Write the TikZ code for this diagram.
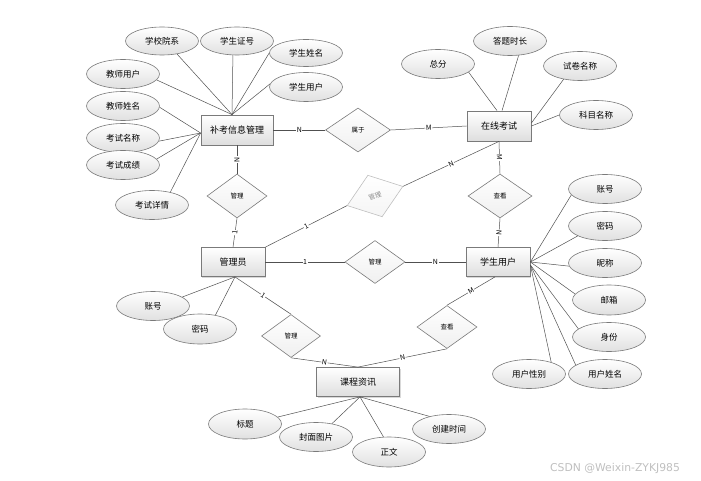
\documentclass[tikz,border=0pt]{standalone}
\usepackage{fontspec}
\setmainfont{Noto Sans CJK SC}
\newfontfamily\wmfont{DejaVu Sans}
\usetikzlibrary{shapes.geometric,shadows}
\definecolor{bordc}{HTML}{7A7A7A}
\definecolor{linec}{HTML}{505050}
\tikzset{
 ent/.style={rectangle, draw=bordc, line width=0.8pt, top color=white, bottom color=black!13, inner sep=0pt, font=\fontsize{9}{10}\selectfont, drop shadow={shadow xshift=1.2pt, shadow yshift=-1.2pt, fill=black!25, opacity=0.6}},
 attr/.style={ellipse, draw=bordc, line width=0.6pt, top color=white, bottom color=black!12, inner sep=0pt, minimum width=73pt, minimum height=29pt, font=\fontsize{8.5}{10}\selectfont},
 rel/.style={diamond, draw=bordc, line width=0.6pt, top color=white, bottom color=black!6, inner sep=0pt, font=\fontsize{6.5}{7}\selectfont},
 conn/.style={draw=linec, line width=0.5pt},
 card/.style={font=\fontsize{7}{7}\selectfont, fill=white, inner sep=0.6pt, sloped},
}
\begin{document}
\begin{tikzpicture}[x=1pt,y=-1pt]
\useasboundingbox (0,0) rectangle (701,481);
% entities
\node[ent, minimum width=72pt, minimum height=30pt] (bk) at (237,130) {补考信息管理};
\node[ent, minimum width=64pt, minimum height=30pt] (zx) at (499,126) {在线考试};
\node[ent, minimum width=64pt, minimum height=29pt] (gly) at (233,262) {管理员};
\node[ent, minimum width=64pt, minimum height=29pt] (xs) at (498,262) {学生用户};
\node[ent, minimum width=83pt, minimum height=29pt] (kc) at (358,382) {课程资讯};
% relationships
\node[rel, minimum width=65pt, minimum height=44pt] (sy) at (358,130) {属于};
\node[rel, minimum width=60pt, minimum height=44pt] (d1) at (237,196) {管理};
\node[rel, minimum width=64pt, minimum height=44pt] (d2) at (500,196) {查看};
\node[rel, minimum width=60pt, minimum height=43pt] (d3) at (375,262) {管理};
\node[rel, draw=black!25, text=black!45, bottom color=black!4, rotate=19, minimum width=59pt, minimum height=44pt] (d4) at (375,196) {管理};
\node[rel, minimum width=59pt, minimum height=43pt] (d5) at (291,336) {管理};
\node[rel, minimum width=60pt, minimum height=43pt] (d6) at (447,327) {查看};
% attributes of 补考信息管理
\node[attr, minimum height=28pt] (a1) at (162,41) {学校院系};
\node[attr, minimum height=28pt] (a2) at (237,41) {学生证号};
\node[attr, minimum height=27pt] (a3) at (306,53) {学生姓名};
\node[attr] (a4) at (306,87) {学生用户};
\node[attr] (a5) at (123,74) {教师用户};
\node[attr] (a6) at (123,106) {教师姓名};
\node[attr] (a7) at (123,138) {考试名称};
\node[attr] (a8) at (123,165) {考试成绩};
\node[attr] (a9) at (152,205) {考试详情};
% attributes of 在线考试
\node[attr] (b1) at (438,64) {总分};
\node[attr] (b2) at (510,41) {答题时长};
\node[attr] (b3) at (580,66) {试卷名称};
\node[attr] (b4) at (596,115) {科目名称};
% attributes of 学生用户
\node[attr] (c1) at (605,189) {账号};
\node[attr] (c2) at (605,226) {密码};
\node[attr] (c3) at (605,263) {昵称};
\node[attr, minimum height=30pt] (c4) at (609,300) {邮箱};
\node[attr] (c5) at (609,337) {身份};
\node[attr] (c6) at (605,374) {用户姓名};
\node[attr] (c7) at (529,374) {用户性别};
% attributes of 管理员
\node[attr] (e1) at (153,306) {账号};
\node[attr, minimum height=30pt] (e2) at (200,329) {密码};
% attributes of 课程资讯
\node[attr, minimum height=30pt] (f1) at (245,424) {标题};
\node[attr] (f2) at (316,437) {封面图片};
\node[attr, minimum height=30pt] (f3) at (389,452) {正文};
\node[attr] (f4) at (449,429) {创建时间};
% convergence points
\coordinate (bkT) at ([xshift=-5pt]bk.north);
\coordinate (bkL) at ([yshift=-3pt]bk.west);
\coordinate (xsR) at (xs.east);
\coordinate (xsR2) at ([yshift=-3pt]xs.east);
\coordinate (glyB) at ([xshift=2pt]gly.south);
\coordinate (kcB) at ([xshift=2pt]kc.south);
% attribute connectors
\draw[conn] (a1.319) -- (bkT);
\draw[conn] (a2.254) -- (bkT);
\draw[conn] (a3.180) -- (bkT);
\draw[conn] (a4.175) -- (bkT);
\draw[conn] (a5.350) -- (bkT);
\draw[conn] (a6.358) -- (bkL);
\draw[conn] (a7.355) -- (bkL);
\draw[conn] (a8.10) -- (bkL);
\draw[conn] (a9.35) -- (bkL);
\draw[conn] (b1.345) -- ([xshift=-2pt]zx.north);
\draw[conn] (b2.301) -- ([xshift=3pt]zx.north);
\draw[conn] (b3.219) -- ([yshift=3pt]zx.east);
\draw[conn] (b4.west) -- (zx.east);
\draw[conn] (c1.190) -- (xsR);
\draw[conn] (c2.200) -- (xsR);
\draw[conn] (c3.185) -- (xsR);
\draw[conn] (c4.170) -- (xsR);
\draw[conn] (c5.165) -- (xsR2);
\draw[conn] (c6.163) -- (xsR2);
\draw[conn] (c7.28) -- (xsR2);
\draw[conn] (e1.17) -- (glyB);
\draw[conn] (e2.42) -- (glyB);
\draw[conn] (f1.12) -- (kcB);
\draw[conn] (f2.40) -- (kcB);
\draw[conn] (f3.110) -- (kcB);
\draw[conn] (f4.147) -- (kcB);
% relationship connectors
\draw[conn] (bk.east) -- node[card]{N} (sy.west);
\draw[conn] (sy.east) -- node[card]{M} (zx.west);
\draw[conn] (bk.south) -- node[card]{N} (d1.north);
\draw[conn] (d1.south) -- node[card]{1} (gly.north);
\draw[conn] (gly.east) -- node[card]{1} (d3.west);
\draw[conn] (d3.east) -- node[card]{N} (xs.west);
\draw[conn] (gly.north east) -- node[card]{1} (d4.west);
\draw[conn] (d4.east) -- node[card]{N} (zx.south);
\draw[conn] (zx.south) -- node[card]{M} (d2.north);
\draw[conn] (d2.south) -- node[card]{N} (xs.north);
\draw[conn] (glyB) -- node[card]{1} (d5.north);
\draw[conn] (d5.south) -- node[card]{N} (kc.north);
\draw[conn] ([xshift=-3pt]xs.south) -- node[card]{M} (d6.north);
\draw[conn] (d6.south) -- node[card]{N} (kc.north);
% watermark
\node[font=\wmfont\fontsize{10.8}{11}\selectfont, text=black!25] (wm) at (615,468) {CSDN @Weixin-ZYKJ985};
\end{tikzpicture}
\end{document}
